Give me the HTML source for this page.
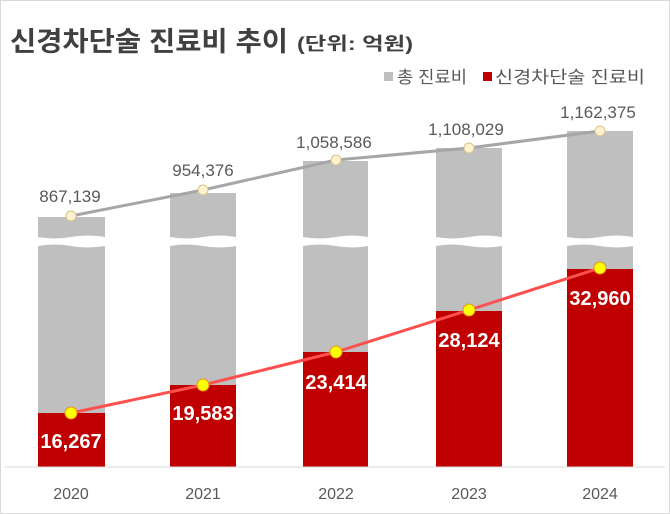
<!DOCTYPE html>
<html><head><meta charset="utf-8"><style>
body{margin:0;background:#fff}
svg{display:block}
text{font-family:"Liberation Sans","Noto Sans CJK KR",sans-serif}
</style></head><body>
<svg width="670" height="514" viewBox="0 0 670 514">
<rect x="0.5" y="0.5" width="669" height="513" fill="#fff" stroke="#d9d9d9"/>
<text x="10" y="51" font-size="27" font-weight="bold" fill="#404040" textLength="278" lengthAdjust="spacingAndGlyphs">신경차단술 진료비 추이</text>
<text x="297" y="50" font-size="18" font-weight="bold" fill="#404040" textLength="116" lengthAdjust="spacingAndGlyphs">(단위: 억원)</text>
<rect x="384" y="72" width="9" height="9" fill="#bfbfbf"/>
<text x="397" y="83" font-size="17" fill="#595959" textLength="70" lengthAdjust="spacingAndGlyphs">총 진료비</text>
<rect x="483" y="72" width="9" height="9" fill="#c00000"/>
<text x="495" y="83" font-size="17" fill="#595959" textLength="150" lengthAdjust="spacingAndGlyphs">신경차단술 진료비</text>
<g fill="#bfbfbf">
<path d="M38 217H105V237Q88 234 71 237T38 237Z"/>
<path d="M38 246Q55 243 71 246T105 246V467H38Z"/>
<path d="M170 193H236V237Q219 234 203 237T170 237Z"/>
<path d="M170 246Q186 243 203 246T236 246V467H170Z"/>
<path d="M303 161H368V237Q352 234 336 237T303 237Z"/>
<path d="M303 246Q319 243 336 246T368 246V467H303Z"/>
<path d="M436 148H502V237Q485 234 469 237T436 237Z"/>
<path d="M436 246Q452 243 469 246T502 246V467H436Z"/>
<path d="M567 131H633V237Q616 234 600 237T567 237Z"/>
<path d="M567 246Q583 243 600 246T633 246V467H567Z"/>
</g>
<g fill="#c00000">
<rect x="38" y="413" width="67" height="54"/>
<rect x="170" y="385" width="66" height="82"/>
<rect x="303" y="352" width="65" height="115"/>
<rect x="436" y="311" width="66" height="156"/>
<rect x="567" y="269" width="66" height="198"/>
</g>
<line x1="5" y1="467" x2="665" y2="467" stroke="#d9d9d9"/>
<polyline points="71,216 203,190 336,160 469,148 600,131" fill="none" stroke="#a6a6a6" stroke-width="3"/>
<g fill="#fff2cc" stroke="#d9c58a" stroke-width="1">
<circle cx="71" cy="216" r="5"/><circle cx="203" cy="190" r="5"/><circle cx="336" cy="160" r="5"/><circle cx="469" cy="148" r="5"/><circle cx="600" cy="131" r="5"/>
</g>
<polyline points="71,413 203,385 336,352 469,310 600,268" fill="none" stroke="#ff5050" stroke-width="3"/>
<g fill="#ffff00" stroke="#e69020" stroke-width="1">
<circle cx="71" cy="413" r="6"/><circle cx="203" cy="385" r="6"/><circle cx="336" cy="352" r="6"/><circle cx="469" cy="310" r="6"/><circle cx="600" cy="268" r="6"/>
</g>
<g font-size="17" fill="#595959" text-anchor="middle">
<text x="70" y="202">867,139</text>
<text x="203" y="176">954,376</text>
<text x="334" y="148">1,058,586</text>
<text x="466" y="135">1,108,029</text>
<text x="598" y="118">1,162,375</text>
</g>
<g font-size="20" font-weight="bold" fill="#fff" text-anchor="middle">
<text x="71" y="448">16,267</text>
<text x="203" y="420">19,583</text>
<text x="336" y="389">23,414</text>
<text x="469" y="347">28,124</text>
<text x="600" y="305">32,960</text>
</g>
<g font-size="16" fill="#595959" text-anchor="middle">
<text x="71" y="499">2020</text>
<text x="203" y="499">2021</text>
<text x="336" y="499">2022</text>
<text x="469" y="499">2023</text>
<text x="600" y="499">2024</text>
</g>
</svg>
</body></html>
